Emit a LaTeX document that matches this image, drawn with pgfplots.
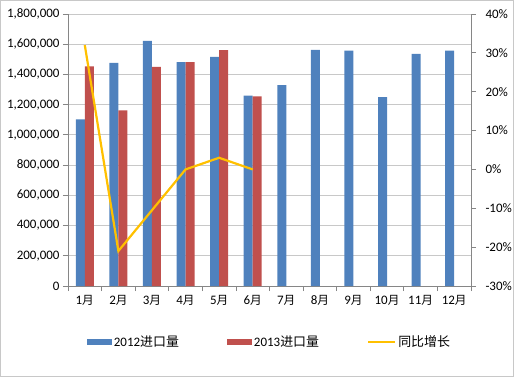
\documentclass[border=0pt]{standalone}
\usepackage{pgfplots}
\pgfplotsset{compat=1.18}
\usepackage{fontspec}
\setmainfont{Carlito}
\newfontfamily\cjk[Scale=0.9]{Noto Sans CJK SC}
\newfontfamily\cjkL{Noto Sans CJK SC}
\definecolor{cblue}{RGB}{79,129,189}
\definecolor{cred}{RGB}{192,80,77}
\definecolor{cyell}{RGB}{255,192,0}
\definecolor{cgrid}{RGB}{200,200,200}
\definecolor{caxis}{RGB}{134,134,134}
\begin{document}
\begin{tikzpicture}
\useasboundingbox (-68bp,-91bp) rectangle (446bp,286bp);
\draw[cgrid,line width=0.6bp] (-67.7bp,-90.7bp) rectangle (445.7bp,285.7bp);
\begin{axis}[
  at={(0,0)}, anchor=south west,
  scale only axis, width=403bp, height=272bp,
  font=\fontsize{13}{15}\selectfont,
  xmin=0.5, xmax=12.5, ymin=0, ymax=1800000,
  ytick={0,200000,...,1800000},
  scaled y ticks=false,
  yticklabel style={/pgf/number format/.cd, fixed, 1000 sep={,}, assume math mode=true},
  ymajorgrids, grid style={cgrid, line width=0.8bp},
  axis x line*=bottom, axis y line*=left,
  axis line style={caxis, line width=0.8bp},
  xtick={1,...,12},
  xticklabels={1{\cjk 月},2{\cjk 月},3{\cjk 月},4{\cjk 月},5{\cjk 月},6{\cjk 月},7{\cjk 月},8{\cjk 月},9{\cjk 月},10{\cjk 月},11{\cjk 月},12{\cjk 月}},
  major x tick style={draw=none},
  minor xtick={0.5,1.5,...,12.5},
  minor x tick style={caxis, line width=0.8bp},
  minor tick length=5bp,
  major tick length=5bp,
  tick align=outside,
  ytick style={caxis, line width=0.8bp},
  xticklabel style={yshift=-1bp},
  ybar=0pt, bar width=9bp,
  legend columns=3,
  legend style={draw=none, fill=none, at={(0.5,-0.205)}, anchor=center,
    /tikz/every even column/.append style={column sep=46bp},
    font=\fontsize{13}{15}\selectfont},
  legend cell align=left,
]
\addplot[fill=cblue, draw=none, legend image code/.code={\fill[cblue] (0bp,-3bp) rectangle (25bp,3bp);}]
  coordinates {(1,1103000) (2,1477000) (3,1622000) (4,1482000) (5,1516000) (6,1260000) (7,1330000) (8,1563000) (9,1558000) (10,1250000) (11,1536000) (12,1558000)};
\addlegendentry{2012{\cjkL 进口量}}
\addplot[fill=cred, draw=none, legend image code/.code={\fill[cred] (0bp,-3bp) rectangle (25bp,3bp);}]
  coordinates {(1,1453000) (2,1162000) (3,1450000) (4,1482000) (5,1561000) (6,1255000)};
\addlegendentry{2013{\cjkL 进口量}}
\addlegendimage{cyell, line width=2.2bp, legend image code/.code={\draw[cyell, line width=2.2bp] (0bp,0bp) -- (27bp,0bp);}}
\addlegendentry{{\cjkL 同比增长}}
\end{axis}
\begin{axis}[
  at={(0,0)}, anchor=south west,
  scale only axis, width=403bp, height=272bp,
  font=\fontsize{13}{15}\selectfont,
  xmin=0.5, xmax=12.5, ymin=-30, ymax=40,
  ytick={-30,-20,...,40},
  axis x line=none, axis y line*=right,
  axis line style={caxis, line width=0.8bp},
  ytick style={caxis, line width=0.8bp},
  major tick length=5bp, tick align=outside,
  yticklabel={\pgfmathprintnumber{\tick}\%},
  yticklabel style={/pgf/number format/assume math mode=true, xshift=6bp},
]
\addplot[cyell, line width=2.2bp, mark=none] coordinates {(1,32) (2,-21) (3,-10.5) (4,0) (5,3) (6,0)};
\end{axis}
\end{tikzpicture}
\end{document}
